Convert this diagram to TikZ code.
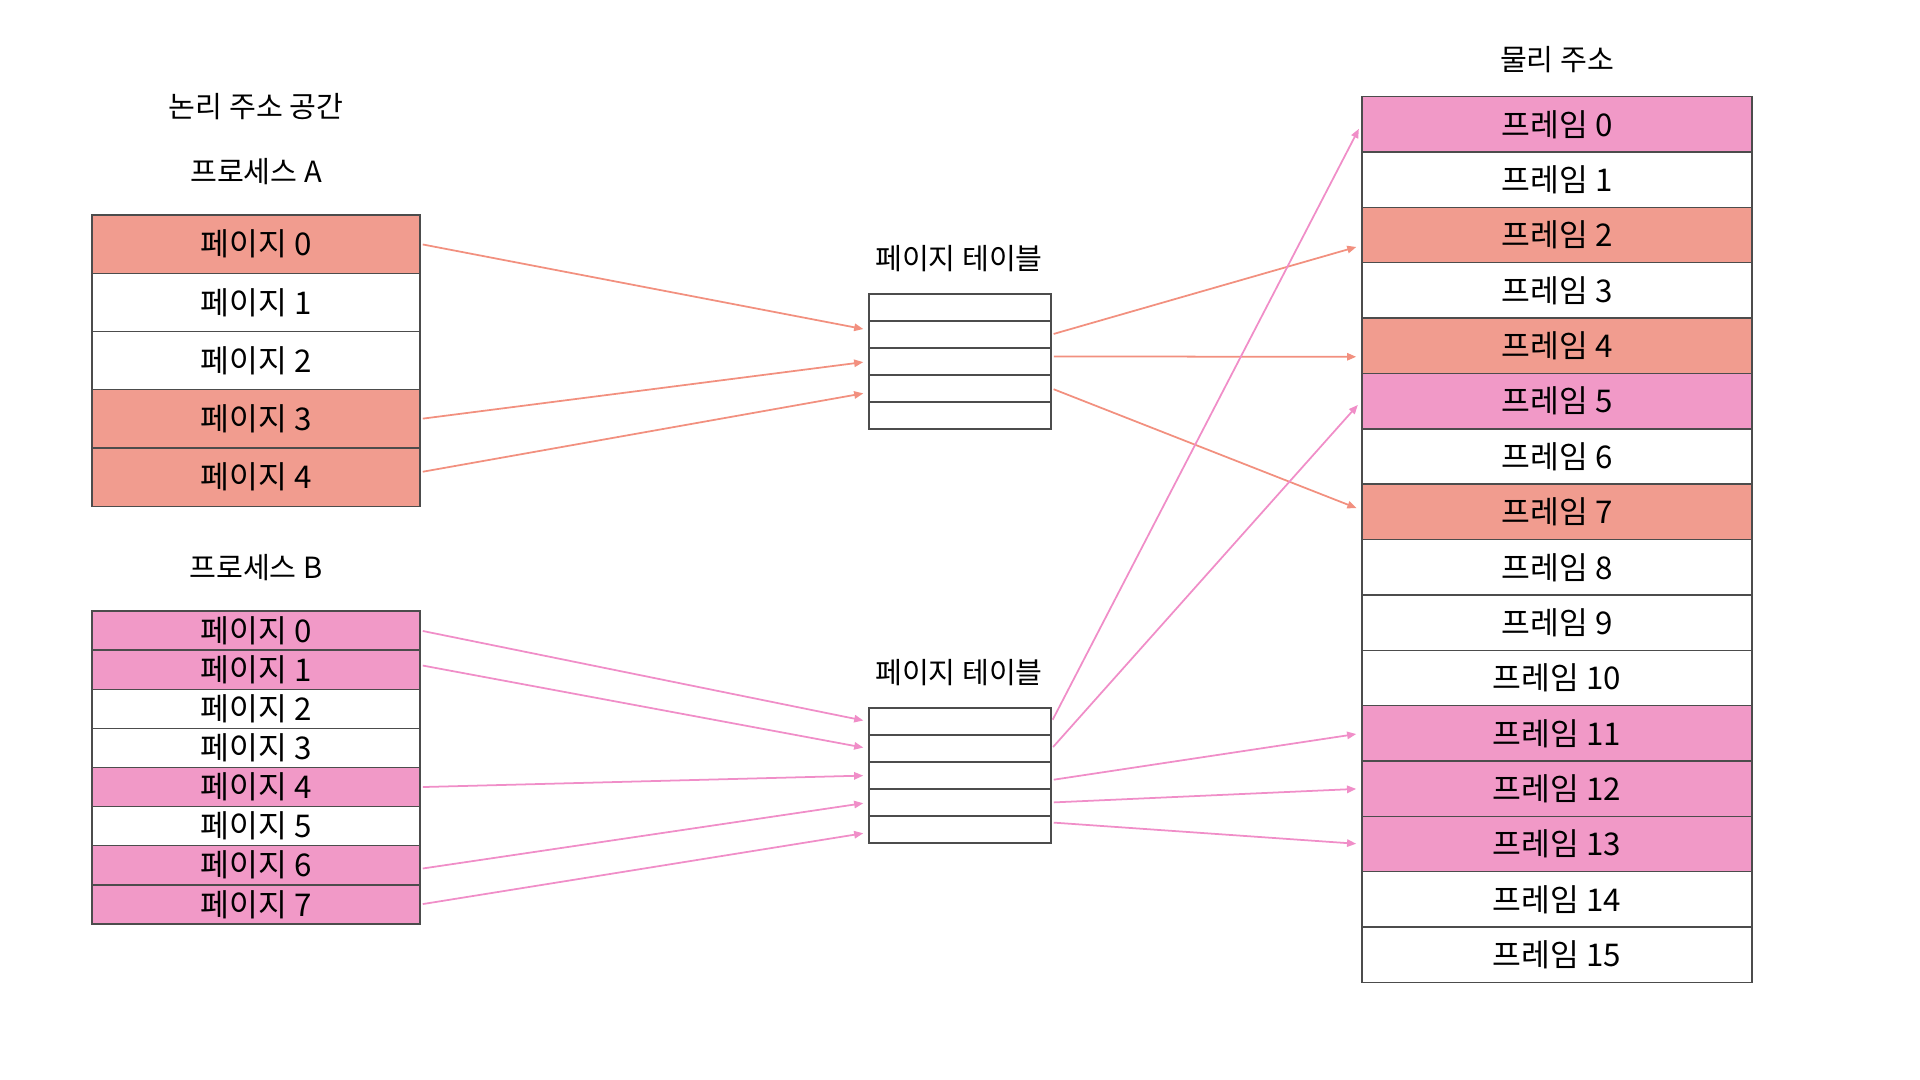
\documentclass[tikz,border=0pt]{standalone}
\usepackage{fontspec}
\setmainfont{Noto Sans CJK KR}
\usetikzlibrary{arrows.meta}
\definecolor{redfill}{HTML}{F19C8F}
\definecolor{pinkfill}{HTML}{F199C7}
\definecolor{redline}{HTML}{F2907F}
\definecolor{pinkline}{HTML}{F08EC8}
\tikzset{
    cell/.style={draw=black!70,line width=0.4pt,inner sep=0pt,font=\fontsize{8.9}{10}\selectfont},
    heading/.style={inner sep=0pt,font=\fontsize{8.3}{10}\selectfont},
    pagea/.style={cell,minimum width=3.28cm,minimum height=5.825mm},
    pageb/.style={cell,minimum width=3.28cm,minimum height=3.9125mm},
    tblrow/.style={cell,minimum width=1.82cm,minimum height=2.7mm},
    framebox/.style={cell,minimum width=3.9cm,minimum height=5.536mm},
    redcell/.style={fill=redfill},
    pinkcell/.style={fill=pinkfill},
    link/.style={line width=0.5pt,shorten <=0.2mm,shorten >=0.5mm,-{Triangle[length=2.6pt,width=2.1pt]}},
    redlink/.style={link,draw=redline,fill=redline},
    pinklink/.style={link,draw=pinkline,fill=pinkline}
}

\begin{document}
\begin{tikzpicture}[x=0.01cm,y=-0.01cm]
    \useasboundingbox (0,0) rectangle (1920,1080);

    % Logical address space
    \node[heading] (logical) at (256,107) {논리 주소 공간};
    \node[heading] (procA) at (256,172) {프로세스 A};
    \node[pagea,redcell] (pa0) at (256,244.1) {페이지 0};
    \node[pagea] (pa1) at (256,302.4) {페이지 1};
    \node[pagea] (pa2) at (256,360.6) {페이지 2};
    \node[pagea,redcell] (pa3) at (256,418.9) {페이지 3};
    \node[pagea,redcell] (pa4) at (256,477.1) {페이지 4};

    \node[heading] (procB) at (256,568) {프로세스 B};
    \node[pageb,pinkcell] (pb0) at (256,630.6) {페이지 0};
    \node[pageb,pinkcell] (pb1) at (256,669.7) {페이지 1};
    \node[pageb] (pb2) at (256,708.8) {페이지 2};
    \node[pageb] (pb3) at (256,747.9) {페이지 3};
    \node[pageb,pinkcell] (pb4) at (256,787.1) {페이지 4};
    \node[pageb] (pb5) at (256,826.2) {페이지 5};
    \node[pageb,pinkcell] (pb6) at (256,865.3) {페이지 6};
    \node[pageb,pinkcell] (pb7) at (256,904.4) {페이지 7};

    % Page tables
    \node[heading] (tblA) at (959,259) {페이지 테이블};
    \node[tblrow] (ta0) at (960,307.5) {};
    \node[tblrow] (ta1) at (960,334.5) {};
    \node[tblrow] (ta2) at (960,361.5) {};
    \node[tblrow] (ta3) at (960,388.5) {};
    \node[tblrow] (ta4) at (960,415.5) {};

    \node[heading] (tblB) at (959,672.5) {페이지 테이블};
    \node[tblrow] (tb0) at (960,721.5) {};
    \node[tblrow] (tb1) at (960,748.5) {};
    \node[tblrow] (tb2) at (960,775.5) {};
    \node[tblrow] (tb3) at (960,802.5) {};
    \node[tblrow] (tb4) at (960,829.5) {};

    % Physical memory
    \node[heading] (physical) at (1557,59.5) {물리 주소};
    \node[framebox,pinkcell] (f0) at (1557,124.4) {프레임 0};
    \node[framebox] (f1) at (1557,179.7) {프레임 1};
    \node[framebox,redcell] (f2) at (1557,235.1) {프레임 2};
    \node[framebox] (f3) at (1557,290.5) {프레임 3};
    \node[framebox,redcell] (f4) at (1557,345.8) {프레임 4};
    \node[framebox,pinkcell] (f5) at (1557,401.2) {프레임 5};
    \node[framebox] (f6) at (1557,456.5) {프레임 6};
    \node[framebox,redcell] (f7) at (1557,511.9) {프레임 7};
    \node[framebox] (f8) at (1557,567.3) {프레임 8};
    \node[framebox] (f9) at (1557,622.6) {프레임 9};
    \node[framebox] (f10) at (1557,678.0) {프레임 10};
    \node[framebox,pinkcell] (f11) at (1557,733.3) {프레임 11};
    \node[framebox,pinkcell] (f12) at (1557,788.7) {프레임 12};
    \node[framebox,pinkcell] (f13) at (1557,844.1) {프레임 13};
    \node[framebox] (f14) at (1557,899.4) {프레임 14};
    \node[framebox] (f15) at (1557,954.8) {프레임 15};

    % Process A mapping
    \draw[redlink] (pa0.east) -- ([yshift=0.45mm]ta1.west);
    \draw[redlink] (pa3.east) -- (ta2.west);
    \draw[redlink] ([yshift=0.5mm]pa4.east) -- ([yshift=-0.4mm]ta3.west);
    \draw[redlink] (ta1.east) -- ([yshift=-1.05mm]f2.west);
    \draw[redlink] ([yshift=0.5mm]ta2.east) -- ([yshift=-1.1mm]f4.west);
    \draw[redlink] (ta3.east) -- ([yshift=0.2mm]f7.west);

    % Process B mapping
    \draw[pinklink] (pb0.east) -- (tb0.west);
    \draw[pinklink] ([yshift=0.45mm]pb1.east) -- (tb1.west);
    \draw[pinklink] (pb4.east) -- (tb2.west);
    \draw[pinklink] ([yshift=-0.35mm]pb6.east) -- (tb3.west);
    \draw[pinklink] (pb7.east) -- ([yshift=-0.3mm]tb4.west);
    \draw[pinklink] (tb0.east) -- (f0.west);
    \draw[pinklink] (tb1.east) -- (f5.west);
    \draw[pinklink] ([yshift=-0.45mm]tb2.east) -- (f11.west);
    \draw[pinklink] (tb3.east) -- (f12.west);
    \draw[pinklink] ([yshift=0.7mm]tb4.east) -- (f13.west);
\end{tikzpicture}
\end{document}
